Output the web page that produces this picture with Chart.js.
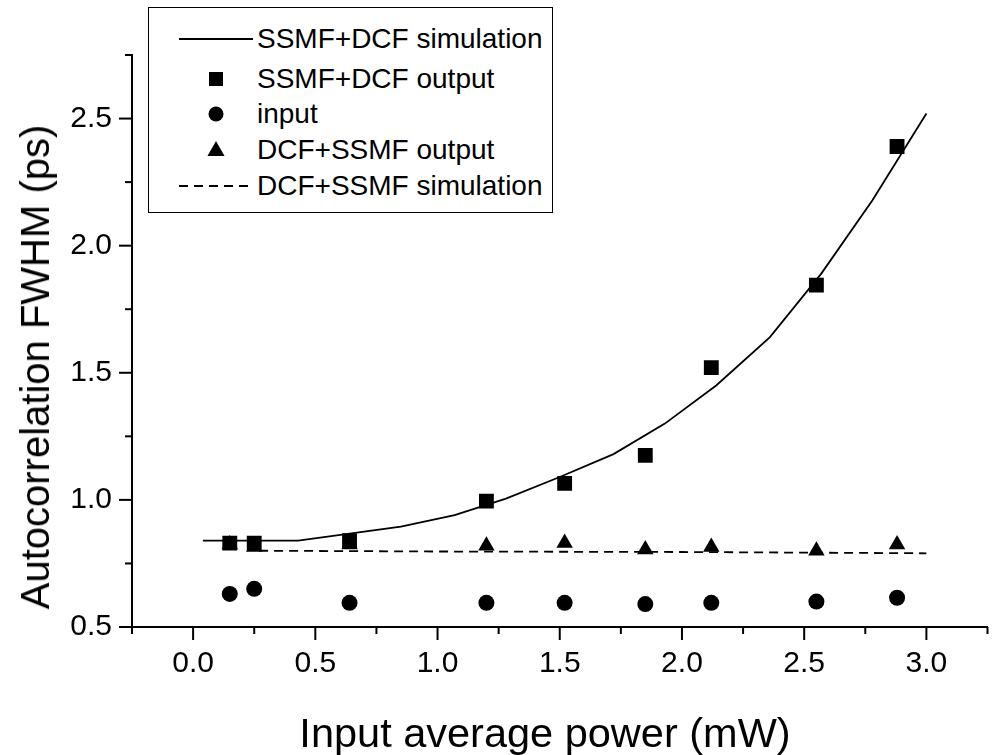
<!DOCTYPE html>
<html>
<head>
<meta charset="utf-8">
<script src="https://cdn.jsdelivr.net/npm/chart.js@4.4.1/dist/chart.umd.min.js"></script>
<style>
  html, body { margin: 0; padding: 0; background: #fff; }
  #wrap { position: relative; width: 998px; height: 755px; overflow: hidden; }
  #legend {
    position: absolute; left: 148px; top: 7px; width: 403px; height: 204px;
    border: 1.5px solid #000; background: #fff;
    font-family: "Liberation Sans", Arial, sans-serif; font-size: 28px; color: #000;
  }
  .row { position: absolute; left: 0; height: 30px; }
  .row svg { position: absolute; left: 30px; top: 0; }
  .row span { position: absolute; left: 108px; white-space: nowrap; line-height: 30px; top: 0; }
  .axt { position: absolute; font-family: "Liberation Sans", Arial, sans-serif; color: #000; white-space: nowrap;
         line-height: 1; transform-origin: 50% 50%; }
  #xt { left: 545px; top: 733px; font-size: 41.5px; transform: translate(-50%, -50%); }
  #yt { left: 35px; top: 367px; font-size: 40px; transform: translate(-50%, -50%) rotate(-90deg); }
</style>
</head>
<body>
<div id="wrap">
  <canvas id="c" width="998" height="755"></canvas>
  <div id="legend"></div>
  <div id="xt" class="axt"></div>
  <div id="yt" class="axt"></div>
</div>
<script>
// ---- data ----
const powerMW = [0.15, 0.25, 0.64, 1.2, 1.52, 1.85, 2.12, 2.55, 2.88];
const ssmfDcfOutput = [0.83, 0.83, 0.84, 0.995, 1.065, 1.175, 1.52, 1.845, 2.39];
const inputWidth = [0.63, 0.65, 0.595, 0.595, 0.595, 0.59, 0.595, 0.60, 0.615];
const dcfSsmfOutput = [0.825, 0.815, 0.825, 0.82, 0.83, 0.805, 0.815, 0.80, 0.825];

const ssmfDcfSimX = [0.04, 0.43, 0.85, 1.07, 1.28, 1.5, 1.72, 1.93, 2.14, 2.36, 2.57, 2.78, 3.0];
const ssmfDcfSimY = [0.84, 0.84, 0.895, 0.94, 1.005, 1.09, 1.18, 1.30, 1.45, 1.64, 1.89, 2.18, 2.52];
const dcfSsmfSimX = [0.27, 1.0, 2.0, 3.0];
const dcfSsmfSimY = [0.80, 0.797, 0.795, 0.79];

const seriesNames = ["SSMF+DCF simulation", "SSMF+DCF output", "input", "DCF+SSMF output", "DCF+SSMF simulation"];
const xTitle = "Input average power (mW)";
const yTitle = "Autocorrelation FWHM (ps)";
const xRange = [-0.25, 3.25];
const yRange = [0.5, 2.75];
const tickStep = 0.25;

const pts = (xs, ys) => xs.map((x, i) => ({x: x, y: ys[i]}));
const FONT = "'Liberation Sans', Arial, Helvetica, sans-serif";

const tickMarks = {
  id: 'tickMarks',
  afterDraw(chart) {
    const ctx = chart.ctx;
    ctx.save();
    ctx.strokeStyle = '#000';
    ctx.lineWidth = 2;
    ['x', 'y'].forEach(id => {
      const s = chart.scales[id];
      s.ticks.forEach(t => {
        const v = t.value;
        const major = Math.abs(v * 2 - Math.round(v * 2)) < 1e-6;
        const len = major ? 13 : 7;
        const p = s.getPixelForValue(v);
        ctx.beginPath();
        if (id === 'x') {
          ctx.moveTo(p, s.top); ctx.lineTo(p, s.top + len);
        } else {
          ctx.moveTo(s.right, p); ctx.lineTo(s.right - len, p);
        }
        ctx.stroke();
      });
    });
    ctx.restore();
  }
};

const labelCb = v => (Math.abs(v * 2 - Math.round(v * 2)) < 1e-6 && v >= 0 && v <= 3.0001) ? v.toFixed(1) : '';

new Chart(document.getElementById('c'), {
  type: 'scatter',
  data: {
    datasets: [
      { label: seriesNames[1], data: pts(powerMW, ssmfDcfOutput), pointStyle: 'rect', pointRadius: 10.5, pointHoverRadius: 10.5,
        backgroundColor: '#000', borderColor: '#000', borderWidth: 0 },
      { label: seriesNames[3], data: pts(powerMW, dcfSsmfOutput), pointStyle: 'triangle', pointRadius: 9.5, pointHoverRadius: 9.5,
        backgroundColor: '#000', borderColor: '#000', borderWidth: 0 },
      { label: seriesNames[2], data: pts(powerMW, inputWidth), pointStyle: 'circle', pointRadius: 8, pointHoverRadius: 8,
        backgroundColor: '#000', borderColor: '#000', borderWidth: 0 },
      { label: seriesNames[0], data: pts(ssmfDcfSimX, ssmfDcfSimY), showLine: true, pointRadius: 0, borderColor: '#000',
        borderWidth: 1.8, tension: 0, fill: false },
      { label: seriesNames[4], data: pts(dcfSsmfSimX, dcfSsmfSimY), showLine: true, pointRadius: 0, borderColor: '#000',
        borderWidth: 1.8, borderDash: [9, 6], tension: 0, fill: false }
    ]
  },
  options: {
    responsive: false,
    animation: false,
    events: [],
    layout: { padding: { top: 55, right: 0, left: 0, bottom: 0 } },
    plugins: { legend: { display: false }, tooltip: { enabled: false } },
    scales: {
      x: {
        type: 'linear', min: xRange[0], max: xRange[1],
        afterFit: s => { s.height = 128; s.paddingRight = 0; s.paddingLeft = 0; },
        border: { display: true, color: '#000', width: 2 },
        grid: { display: false, drawTicks: false },
        ticks: { stepSize: tickStep, autoSkip: false, maxRotation: 0, padding: 19, color: '#000',
                 font: { family: FONT, size: 30 }, callback: labelCb },
        title: { display: false, text: xTitle }
      },
      y: {
        type: 'linear', min: yRange[0], max: yRange[1],
        afterFit: s => { s.width = 132; s.paddingTop = 0; s.paddingBottom = 0; },
        border: { display: true, color: '#000', width: 2 },
        grid: { display: false, drawTicks: false },
        ticks: { stepSize: tickStep, autoSkip: false, padding: 20, color: '#000',
                 font: { family: FONT, size: 30 }, callback: labelCb },
        title: { display: false, text: yTitle }
      }
    }
  },
  plugins: [tickMarks]
});

document.getElementById('xt').textContent = xTitle;
document.getElementById('yt').textContent = yTitle;

// ---- HTML legend ----
const rowY = [31, 71, 106, 142, 178];
const sym = [
  '<svg width="76" height="30"><line x1="0" y1="15" x2="74" y2="15" stroke="#000" stroke-width="1.8"/></svg>',
  '<svg width="76" height="30"><rect x="30" y="8" width="14" height="14" fill="#000"/></svg>',
  '<svg width="76" height="30"><circle cx="37" cy="15" r="7.5" fill="#000"/></svg>',
  '<svg width="76" height="30"><polygon points="37,6 45.5,21 28.5,21" fill="#000"/></svg>',
  '<svg width="76" height="30"><line x1="0" y1="15" x2="74" y2="15" stroke="#000" stroke-width="1.8" stroke-dasharray="9,6"/></svg>'
];
const lg = document.getElementById('legend');
seriesNames.forEach((n, i) => {
  const r = document.createElement('div');
  r.className = 'row';
  r.style.top = (rowY[i] - 15) + 'px';
  r.innerHTML = sym[i] + '<span>' + n + '</span>';
  lg.appendChild(r);
});
</script>
</body>
</html>
